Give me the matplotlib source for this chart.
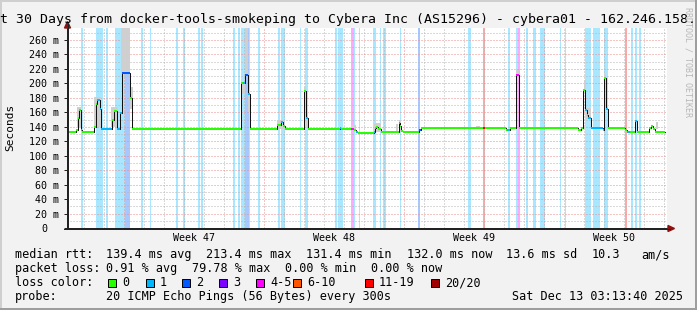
import matplotlib
matplotlib.use('Agg')
import matplotlib.pyplot as plt
from matplotlib.patches import Rectangle, Polygon
from matplotlib.lines import Line2D
from matplotlib.transforms import ScaledTranslation

W, H, DPI = 697, 310, 100
MONO = 'DejaVu Sans Mono'
plt.rcParams['font.family'] = [MONO, 'DejaVu Sans']

# ---------------- data (x in days since start of the 30 day window) -------------
med_day = [0.00, 0.45, 0.525, 0.575, 0.675, 0.75, 1.35, 1.425, 1.475, 1.625, 1.70,
           2.25, 2.325, 2.475, 2.65, 2.725, 3.15, 3.25, 8.70, 8.80, 8.90, 9.05, 9.15,
           10.50, 10.675, 10.80, 10.90, 11.85, 11.925, 12.05, 13.625, 13.70, 14.20,
           14.35, 14.45, 14.55, 15.35, 15.40, 15.45, 15.55, 15.70, 16.60, 16.65, 16.70,
           16.80, 17.60, 17.675, 20.80, 20.90, 21.95, 22.00, 22.15, 22.45, 22.60, 25.55,
           25.70, 25.80, 25.90, 26.00, 26.05, 26.20, 26.80, 26.85, 26.95, 27.05, 27.90,
           28.00, 28.15, 28.40, 28.50, 29.10, 29.20, 29.30, 29.40]
med_ms = [132.8, 135.0, 152, 163, 135, 132.8, 140, 172, 177, 165, 137.4,
          149, 162, 137.4, 159, 214, 180, 137.4, 200, 201, 211, 186, 137.4,
          142, 146, 141, 137.4, 189, 152, 137.4, 138.5, 137.4, 137.4,
          135, 132.8, 132.0, 133, 138, 140, 137, 132.3, 145, 141, 134,
          132.3, 135, 138.2, 138.2, 138.2, 136, 135.5, 138.2, 211, 138.2, 135.5,
          137.8, 191, 163, 156, 152, 137.8, 136, 207, 165, 137.8, 135,
          132.8, 132.8, 148, 132.8, 138.5, 141, 137.4, 132.8]
med_loss = [0, 0, 0, 0, 1, 0, 0, 0, 1, 1, 1,
            0, 0, 1, 1, 2, 0, 0, 0, 1, 2, 1, 0,
            0, 1, 0, 0, 0, 1, 0, 1, 0, 4,
            0, 1, 0, 1, 0, 0, 0, 0, 1, 0, 0,
            0, 2, 0, 11, 0, 0, 1, 0, 4, 0, 0,
            0, 0, 1, 0, 1, 1, 0, 0, 1, 0, 0,
            1, 0, 1, 0, 0, 0, 0, 0]
med_end = 29.90

loss_start = [0.70, 1.45, 1.95, 2.40, 2.90, 3.70, 4.15, 5.45, 5.80, 6.55, 6.70, 8.30,
              8.55, 8.70, 8.90, 9.10, 9.55, 10.55, 10.70, 11.65, 11.90, 13.40, 13.55,
              14.20, 14.35, 14.60, 15.30, 15.65, 15.80, 16.65, 17.55, 20.05, 20.80,
              22.05, 22.45, 22.55, 22.95, 23.30, 23.65, 24.65, 24.90, 25.90, 26.30,
              26.85, 27.90, 28.20, 28.40, 28.60]
loss_end = [0.80, 1.80, 2.05, 2.90, 3.15, 3.80, 4.20, 5.55, 5.90, 6.65, 6.80, 8.40,
            8.65, 8.90, 9.10, 9.15, 9.65, 10.65, 10.90, 11.70, 12.05, 13.50, 13.80,
            14.35, 14.40, 14.65, 15.45, 15.70, 15.95, 16.70, 17.65, 20.20, 20.90,
            22.15, 22.55, 22.65, 23.05, 23.45, 23.90, 24.70, 24.95, 26.20, 26.65,
            27.05, 28.00, 28.30, 28.50, 28.70]
loss_count = [1, 1, 1, 1, 2, 1, 1, 1, 1, 1, 1, 1,
              1, 1, 2, 1, 1, 1, 1, 1, 1, 1, 1,
              4, 1, 1, 1, 1, 1, 1, 2, 1, 11,
              1, 1, 4, 1, 1, 1, 1, 1, 1, 1,
              1, 11, 1, 1, 1]

smoke_start = [0.50, 1.35, 2.20, 2.675, 3.15, 8.75, 8.90, 9.05, 10.50, 11.825, 11.925,
               14.20, 15.35, 16.45, 16.575, 20.45, 22.45, 24.85, 25.825, 25.95, 26.85,
               26.95, 29.425]
smoke_end = [0.70, 1.70, 2.55, 3.15, 3.275, 8.90, 9.05, 9.15, 10.90, 11.925, 12.05,
             14.45, 15.70, 16.55, 16.70, 20.65, 22.60, 24.95, 25.95, 26.20, 26.95,
             27.05, 29.55]
smoke_lo = [140, 140, 140, 214, 165, 185, 211, 160, 137, 186, 140,
            135, 133, 134, 133, 138, 211, 137, 191, 151, 207, 165, 137]
smoke_hi = [168, 181, 167, 285, 195, 202, 285, 186, 149, 196, 160,
            142, 145, 144, 150, 141, 219, 143, 205, 166, 213, 170, 146]

y_ticks = list(range(0, 261, 20))
y_labels = ['0'] + ['%d m' % v for v in range(20, 261, 20)]
first_midnight = 0.8655          # first day boundary after window start
week_labels = ['Week 47', 'Week 48', 'Week 49', 'Week 50']

loss_classes = ['0', '1', '2', '3', '4-5', '6-10', '11-19', '20/20']
loss_colors = ['#26ff00', '#00b8ff', '#0059ff', '#7e00ff', '#ff00ff', '#ff5500', '#ff0000', '#a10000']

title = 't 30 Days from docker-tools-smokeping to Cybera Inc (AS15296) - cybera01 - 162.246.158.'
stats1 = [(15, 'median rtt:'), (106, '139.4 ms avg'), (206, '213.4 ms max'), (306, '131.4 ms min'),
          (407, '132.0 ms now'), (506, '13.6 ms sd'), (592, '10.3'), (641, 'am/s')]
stats2 = [(15, 'packet loss:'), (106, '0.91 % avg'), (192, '79.78 % max'), (285, '0.00 % min'),
          (371, '0.00 % now')]
stats4 = [(15, 'probe:'), (106, '20 ICMP Echo Pings (56 Bytes) every 300s'),
          (512, 'Sat Dec 13 03:13:40 2025')]
legend_box_x = [108, 146, 182, 219, 256, 293, 365, 431]


def loss_class(n):
    if n <= 3:
        return n
    if n <= 5:
        return 4
    if n <= 10:
        return 5
    if n <= 19:
        return 6
    return 7


def light(hexcol, a=0.34):
    r, g, b = [int(hexcol[i:i + 2], 16) for i in (1, 3, 5)]
    return '#%02x%02x%02x' % tuple(int(round(c * a + 255 * (1 - a))) for c in (r, g, b))


def fx(px):
    return px / W


def fy(py):
    return 1 - py / H


# ---------------- figure ----------------
fig = plt.figure(figsize=(W / DPI, H / DPI), dpi=DPI, facecolor='#f2f2f2')
ax = fig.add_axes([fx(67), fy(228), 600 / W, 200 / H])
ax.set_facecolor('white')
ax.set_xlim(0, 30)
ax.set_ylim(0, 276.6)

# loss background bars
for s, e, n in zip(loss_start, loss_end, loss_count):
    ax.axvspan(s, e, color=light(loss_colors[loss_class(n)]), lw=0, zorder=1)

# grid
px = 0.72
ax.set_axisbelow('line')
ax.set_yticks(y_ticks)
ax.set_yticklabels(y_labels)
ax.set_yticks(list(range(10, 271, 20)), minor=True)
ax.grid(axis='y', which='minor', color='#b4b4b4', lw=px, ls=(0, (1, 2)), zorder=1.5)
ax.grid(axis='y', which='major', color='#e88c8c', lw=px, ls=(0, (1, 2)), zorder=1.5)
d = first_midnight
while d < 30:
    wk = abs(((d - first_midnight - 2) / 7) - round((d - first_midnight - 2) / 7)) < 1e-6
    ax.axvline(d, color='#e88c8c' if wk else '#b4b4b4', lw=px, ls=(0, (1, 2)), zorder=1.5)
    d += 1

# smoke
ax.bar(smoke_start, [h - l for h, l in zip(smoke_hi, smoke_lo)],
       width=[e - s for s, e in zip(smoke_start, smoke_end)], bottom=smoke_lo,
       align='edge', color='#cfcfcf', lw=0, zorder=1.7)

# median: black step line with loss coloured plateaus
xs = med_day + [med_end]
ax.step(xs, med_ms + [med_ms[-1]], where='post', color='#111111', lw=px, zorder=2)
ax.hlines(med_ms, med_day, xs[1:], colors=[loss_colors[loss_class(n)] for n in med_loss],
          lw=2 * px, zorder=2.2, capstyle='butt')

# axes styling
for sp in ('top', 'right'):
    ax.spines[sp].set_visible(False)
for sp in ('left', 'bottom'):
    ax.spines[sp].set_color('#222222')
    ax.spines[sp].set_linewidth(px)
ax.tick_params(axis='y', which='major', length=3 * px, width=px, color='#222222',
               pad=3.6, labelsize=7.2, labelcolor='black')
ax.tick_params(axis='y', which='minor', length=0)
week_pos = [first_midnight + 2 + 3.5 + 7 * k for k in range(4)]
ax.set_xticks(week_pos)
ax.set_xticklabels(week_labels)
ax.tick_params(axis='x', length=0, pad=3.6, labelsize=7.2, labelcolor='black')
for lab in ax.get_yticklabels() + ax.get_xticklabels():
    lab.set_family(MONO)
t0 = ax.yaxis.get_major_ticks()[0]
t0.label1.set_transform(t0.label1.get_transform() + ScaledTranslation(-0.12, 0, fig.dpi_scale_trans))

# axis extensions and arrows
fig.add_artist(Line2D([fx(67.5), fx(67.5)], [fy(228), fy(24)], color='#222222', lw=px))
fig.add_artist(Line2D([fx(64), fx(670)], [fy(228.5), fy(228.5)], color='#222222', lw=px))
fig.add_artist(Polygon([[fx(67.5), fy(21.5)], [fx(64.5), fy(28)], [fx(70.5), fy(28)]],
                       closed=True, color='#8b1010', transform=fig.transFigure))
fig.add_artist(Polygon([[fx(674.5), fy(228.5)], [fx(668), fy(225.5)], [fx(668), fy(231.5)]],
                       closed=True, color='#8b1010', transform=fig.transFigure))

# frame shading
fig.add_artist(Rectangle((0, fy(2)), 1, 2 / H, color='#cfcfcf', lw=0, transform=fig.transFigure))
fig.add_artist(Rectangle((0, 0), 2 / W, 1, color='#cfcfcf', lw=0, transform=fig.transFigure))
fig.add_artist(Rectangle((0, 0), 1, 2 / H, color='#9e9e9e', lw=0, transform=fig.transFigure))
fig.add_artist(Rectangle((fx(695), 0), 2 / W, 1, color='#9e9e9e', lw=0, transform=fig.transFigure))

# texts
fig.text(fx(0), fy(23.3), title, fontsize=9.57, family=MONO, ha='left', va='baseline')
fig.text(fx(10), fy(127), 'Seconds', fontsize=8.0, family=MONO, rotation=90,
         ha='center', va='center')
fig.text(fx(688), fy(62), 'RRDTOOL / TOBI OETIKER', fontsize=6.0, family=MONO,
         rotation=-90, ha='center', va='center', color='#b8b8b8')

for x, s in stats1:
    fig.text(fx(x), fy(258), s, fontsize=8.43, family=MONO, va='baseline')
for x, s in stats2:
    fig.text(fx(x), fy(272), s, fontsize=8.43, family=MONO, va='baseline')
fig.text(fx(15), fy(286), 'loss color:', fontsize=8.43, family=MONO, va='baseline')
for bx, col, lab in zip(legend_box_x, loss_colors, loss_classes):
    fig.add_artist(Rectangle((fx(bx), fy(286.5)), 8 / W, 8 / H, facecolor=col,
                             edgecolor='black', lw=px, transform=fig.transFigure))
    fig.text(fx(bx + 14), fy(286), lab, fontsize=8.43, family=MONO, va='baseline')
for x, s in stats4:
    fig.text(fx(x), fy(300), s, fontsize=8.43, family=MONO, va='baseline')

fig.savefig('out.png', dpi=DPI, facecolor=fig.get_facecolor())
